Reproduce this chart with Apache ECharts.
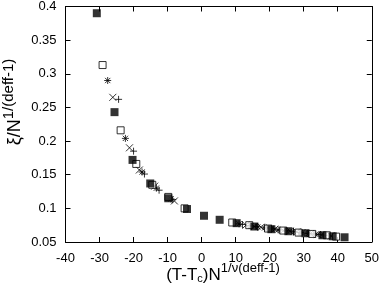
<!DOCTYPE html>
<html><head><meta charset="utf-8">
<script src="https://cdn.jsdelivr.net/npm/echarts@6/dist/echarts.min.js"></script>
<style>html,body{margin:0;padding:0;background:#fff}#c{width:382px;height:291px}</style>
</head><body><div id="c"></div>
<script>
const xTicks = [-40,-30,-20,-10,0,10,20,30,40,50];
const yTicks = [0.05,0.1,0.15,0.2,0.25,0.3,0.35,0.4];
const plusPts = [[-24.4,0.262],[-20,0.185],[-16.8,0.151],[-12.5,0.127],[-8.5,0.113],[12,0.076],[14,0.0745],[16,0.073],[19,0.071],[21,0.0695],[23,0.068],[25,0.067],[27,0.066],[29,0.064],[31,0.063],[33,0.062],[35,0.061]];
const crossPts = [[-26.1,0.265],[-21.2,0.19],[-18.3,0.157],[-13.8,0.133],[-8,0.111],[13,0.075],[15.5,0.073],[17.5,0.072],[19.5,0.0705],[21.5,0.069],[24,0.067],[26,0.066],[28,0.065],[29.5,0.064],[32,0.0625],[34,0.061],[38,0.059]];
const starPts = [[-27.6,0.29],[-22.4,0.204],[-17.5,0.154],[-13.3,0.13],[-9,0.114],[11,0.077],[14.5,0.074],[16.5,0.0725],[18.5,0.071],[20.5,0.0695],[22.5,0.068],[25,0.066],[27,0.065],[29,0.064],[31.5,0.063],[33.5,0.0615],[36,0.060]];
const openSqPts = [[-29.1,0.313],[-23.8,0.216],[-19.2,0.166],[-14.5,0.135],[-9.8,0.117],[-5,0.1],[9,0.079],[14,0.075],[19.5,0.07],[24,0.067],[28.5,0.064],[32.5,0.062],[36.8,0.06],[39.5,0.058]];
const filledSqPts = [[-30.8,0.39],[-25.6,0.243],[-20.3,0.172],[-15.1,0.137],[-9.8,0.115],[-4.3,0.099],[0.7,0.089],[5.3,0.083],[10.3,0.078],[15.5,0.073],[20.5,0.069],[25.5,0.066],[30.5,0.063],[35.5,0.06],[38.5,0.0585],[42,0.057]];

const chart = echarts.init(document.getElementById('c'), null, {renderer:'canvas'});
const font = 'Liberation Sans, Arial, sans-serif';
const lineSym = (name, path, data) => ({
  type:'scatter', name, data, symbol:path, symbolSize:7,
  itemStyle:{color:'none', borderColor:'#000', borderWidth:1}, silent:true
});
const axisCommon = () => ({
  axisLine:{show:true, onZero:false, lineStyle:{color:'#000', width:1}},
  axisTick:{show:true, inside:true, length:5, lineStyle:{color:'#000', width:1}},
  splitLine:{show:false}
});
const xRich = {
  a:{fontSize:17, fontFamily:font, fill:'#000', verticalAlign:'bottom', lineHeight:22},
  s:{fontSize:11, fontFamily:font, fill:'#000', verticalAlign:'bottom'},
  p:{fontSize:13, fontFamily:font, fill:'#000', verticalAlign:'top'}
};
const yRich = {
  a:{fontSize:18, fontFamily:font, fill:'#000', verticalAlign:'bottom', lineHeight:23},
  p:{fontSize:15, fontFamily:font, fill:'#000', verticalAlign:'top'}
};
chart.setOption({
  animation:false,
  grid:{left:65.5, right:8, top:5, bottom:49},
  xAxis:[
    Object.assign({type:'value', min:-40, max:50, interval:10, position:'bottom',
      axisLabel:{color:'#000', fontSize:13, fontFamily:font, margin:10}}, axisCommon()),
    Object.assign({type:'value', min:-40, max:50, interval:10, position:'top',
      axisLabel:{show:false}}, axisCommon())
  ],
  yAxis:[
    Object.assign({type:'value', min:0.05, max:0.4, interval:0.05, position:'left',
      axisLabel:{color:'#000', fontSize:13, fontFamily:font, margin:9,
        formatter:v=>String(Math.round(v*100)/100)}}, axisCommon()),
    Object.assign({type:'value', min:0.05, max:0.4, interval:0.05, position:'right',
      axisLabel:{show:false}}, axisCommon())
  ],
  graphic:[
    {type:'text', x:223, y:262, style:{
      text:'{a|(T-T}{s|c}{a|)N}{p|1/ν(deff-1)}', align:'center', verticalAlign:'top',
      rich:xRich
    }},
    {type:'text', x:1, y:102, rotation:Math.PI/2, style:{
      text:'{a|ξ/N}{p|1/(deff-1)}', align:'center', verticalAlign:'top',
      rich:yRich
    }}
  ],
  series:[
    lineSym('plus','path://M0,4L8,4M4,0L4,8', plusPts),
    lineSym('cross','path://M0,0L8,8M8,0L0,8', crossPts),
    lineSym('star','path://M0,4L8,4M4,0L4,8M1,1L7,7M7,1L1,7', starPts),
    {type:'scatter', name:'open', data:openSqPts, symbol:'rect', symbolSize:7,
      itemStyle:{color:'#fff', borderColor:'#000', borderWidth:1}, silent:true},
    {type:'scatter', name:'filled', data:filledSqPts, symbol:'rect', symbolSize:8,
      itemStyle:{color:'#000'}, silent:true}
  ]
});
</script></body></html>
